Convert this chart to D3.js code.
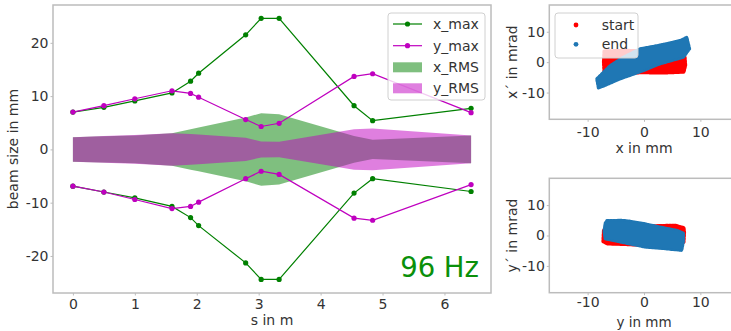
<!DOCTYPE html>
<html><head><meta charset="utf-8">
<script src="https://cdn.jsdelivr.net/npm/d3@7"></script>
<style>body{margin:0;background:#fff}svg{display:block;font-family:"DejaVu Sans",sans-serif}</style>
</head><body><svg id="c" width="731" height="331"></svg>
<script>
// ---- data ----
const s = [0, 0.5, 1.0, 1.6, 1.9, 2.03, 2.79, 3.04, 3.33, 4.54, 4.84, 6.43];
const xMaxPos = [7.0, 7.9, 9.1, 10.6, 12.8, 14.3, 21.5, 24.6, 24.6, 8.2, 5.4, 7.7];
const xMaxNeg = [-6.9, -8.0, -9.1, -10.7, -12.8, -14.3, -21.3, -24.4, -24.4, -8.2, -5.5, -7.9];
const yMaxPos = [7.0, 8.2, 9.5, 11.0, 10.5, 9.8, 5.6, 4.3, 4.9, 13.7, 14.2, 6.9];
const yMaxNeg = [-6.9, -8.0, -9.4, -11.1, -10.7, -9.9, -5.5, -4.1, -4.7, -12.9, -13.3, -6.6];
const xRMS = [2.3, 2.45, 2.6, 3.05, 3.8, 4.1, 6.0, 6.8, 6.6, 2.5, 1.8, 2.6];
const yRMS = [2.3, 2.5, 2.7, 3.05, 2.9, 2.8, 2.2, 1.5, 1.45, 3.8, 3.9, 2.6];
const sTicks = [0, 1, 2, 3, 4, 5, 6];
const sizeTicks = [-20, -10, 0, 10, 20];
const phaseTicksX = [-10, 0, 10];
const phaseTicksY = [-10, 0, 10];
const legendMain = ["x_max", "y_max", "x_RMS", "y_RMS"];
const legendPhase = ["start", "end"];
const freqLabel = "96 Hz";
// outlines of particle clouds [position mm, angle mrad]
const startXX = [[-7.1,3.7],[-7.2,0],[-7.1,-3.4],[-3,-3.6],[0,-3.5],[3.5,-3.6],[7.1,-3.3],[7.4,-1],[7.3,1.5],[7.0,3.5],[3,3.8],[0,3.8],[-3.5,3.9]];
const endXX = [[-8.1,-8.5],[-8.4,-5.5],[-7.8,-4.4],[-6.0,-1.1],[-3.7,1.6],[-0.7,4.4],[2.8,5.6],[6.4,7.1],[7.6,8.2],[8.1,4.4],[7.0,1.6],[2.8,-0.6],[-0.1,-2.8],[-4.2,-5.5],[-7.2,-7.9]];
const startYY = [[-7.2,1.6],[-7.3,-2.0],[-6.5,-2.8],[-3,-3.0],[0,-3.3],[3,-3.4],[6,-3.3],[7.1,-2.2],[7.2,1.0],[7.1,2.6],[5.5,3.4],[3,3.3],[0,3.1],[-4,3.0],[-6.8,2.7]];
const endYY = [[-6.6,4.9],[-4,5.0],[-2.8,4.8],[0,3.9],[3.1,2.7],[6.0,1.6],[7.0,0.8],[7.0,-2],[6.7,-4.9],[4,-4.4],[0.2,-3.8],[-3,-2.6],[-6.9,-1.1],[-7.1,1.5],[-6.9,4.0]];

// ---- styles ----
const GREEN = "#008000", MAG = "#bf00bf", RED = "#ff0000", BLUE = "#1f77b4";
const SPINE = "#bcbcbc", TXT = "#333", FS = 14;
const svg = d3.select("#c");

function frame(g, x, y, xt, yt, xlab, ylab, xlabY, ylabX, xpad, xlabFS) {
  const [x0, x1] = x.range(), [y0, y1] = y.range();
  g.append("rect").attr("x", x0).attr("y", y1).attr("width", x1 - x0).attr("height", y0 - y1)
    .attr("fill", "none").attr("stroke", SPINE).attr("stroke-width", 1.5);
  const xa = g.append("g").attr("transform", `translate(0,${y0})`)
    .call(d3.axisBottom(x).tickValues(xt).tickSize(2.5).tickPadding(xpad).tickFormat(d => d < 0 ? "-" + Math.abs(d) : d));
  const ya = g.append("g").attr("transform", `translate(${x0},0)`)
    .call(d3.axisLeft(y).tickValues(yt).tickSize(2.5).tickPadding(2).tickFormat(d => d < 0 ? "-" + Math.abs(d) : d));
  [xa, ya].forEach(a => {
    a.select(".domain").remove();
    a.selectAll("line").attr("stroke", SPINE).attr("stroke-width", 1);
    a.selectAll("text").attr("fill", TXT).attr("font-size", FS).attr("font-family", "DejaVu Sans");
  });
  g.append("text").attr("x", (x0 + x1) / 2).attr("y", xlabY).attr("text-anchor", "middle")
    .attr("font-size", xlabFS || FS).attr("fill", TXT).text(xlab);
  g.append("text").attr("transform", `translate(${ylabX},${(y0 + y1) / 2}) rotate(-90)`)
    .attr("text-anchor", "middle").attr("dominant-baseline", "central")
    .attr("font-size", FS).attr("fill", TXT).text(ylab);
}

// ---- main plot ----
const xs = d3.scaleLinear().domain([-0.3215, 6.7515]).range([53, 491]);
const ys = d3.scaleLinear().domain([-26.95, 27.1]).range([293, 5]);
const gm = svg.append("g");
const area = arr => d3.area().x((d, i) => xs(s[i])).y0((d, i) => ys(-arr[i])).y1((d, i) => ys(arr[i]))(arr);
gm.append("path").attr("d", area(xRMS)).attr("fill", GREEN).attr("fill-opacity", 0.5);
gm.append("path").attr("d", area(yRMS)).attr("fill", MAG).attr("fill-opacity", 0.5);
const line = d3.line().x((d, i) => xs(s[i])).y(d => ys(d));
[[xMaxPos, GREEN], [xMaxNeg, GREEN], [yMaxPos, MAG], [yMaxNeg, MAG]].forEach(([arr, c]) => {
  gm.append("path").attr("d", line(arr)).attr("fill", "none").attr("stroke", c).attr("stroke-width", 1.2);
  gm.selectAll(null).data(arr).enter().append("circle")
    .attr("cx", (d, i) => xs(s[i])).attr("cy", d => ys(d)).attr("r", 2.6).attr("fill", c);
});
frame(gm, xs, ys, sTicks, sizeTicks, "s in m", "beam size in mm", 325, 13, 3.5);
gm.append("text").attr("x", 479).attr("y", 277).attr("text-anchor", "end")
  .attr("font-size", 27.5).attr("fill", "#0a900a").text(freqLabel);
// legend
const lg = gm.append("g");
lg.append("rect").attr("x", 388).attr("y", 13).attr("width", 97).attr("height", 87).attr("rx", 3)
  .attr("fill", "#fff").attr("fill-opacity", 0.8).attr("stroke", "#d0d0d0");
const lcol = [GREEN, MAG, GREEN, MAG], ly = [24, 45.7, 67.3, 88.3];
legendMain.forEach((t, i) => {
  if (i < 2) {
    lg.append("line").attr("x1", 393).attr("x2", 422).attr("y1", ly[i]).attr("y2", ly[i]).attr("stroke", lcol[i]).attr("stroke-width", 1.2);
    lg.append("circle").attr("cx", 407.5).attr("cy", ly[i]).attr("r", 2.6).attr("fill", lcol[i]);
  } else {
    lg.append("rect").attr("x", 393).attr("y", ly[i] - 5).attr("width", 29).attr("height", 10).attr("fill", lcol[i]).attr("fill-opacity", 0.5);
  }
  lg.append("text").attr("x", 433).attr("y", ly[i]).attr("dominant-baseline", "central").attr("font-size", FS).attr("fill", TXT).text(t);
});

// ---- phase space plots ----
function phase(top, bottom, startPts, endPts, xlab, ylab, xlabY, withLegend, xpad, xlabFS) {
  const x = d3.scaleLinear().domain([-16.8, 16.8]).range([549.3, 738.7]);
  const y = d3.scaleLinear().domain([-18.8, 18.8]).range([bottom, top]);
  const g = svg.append("g");
  const poly = d3.line().x(d => x(d[0])).y(d => y(d[1])).curve(d3.curveLinearClosed);
  [[startPts, RED], [endPts, BLUE]].forEach(([pts, c]) => {
    g.append("path").attr("d", poly(pts)).attr("fill", c).attr("stroke", c)
      .attr("stroke-width", 3).attr("stroke-linejoin", "round").attr("stroke-dasharray", "2 1.2").attr("stroke-linecap", "round");
    g.append("path").attr("d", poly(pts)).attr("fill", c).attr("stroke", c).attr("stroke-width", 1.5).attr("stroke-linejoin", "round");
  });
  frame(g, x, y, phaseTicksX, phaseTicksY, xlab, ylab, xlabY, 512, xpad, xlabFS);
  if (withLegend) {
    g.append("rect").attr("x", 555).attr("y", 13).attr("width", 83).attr("height", 45).attr("rx", 3)
      .attr("fill", "#fff").attr("fill-opacity", 0.8).attr("stroke", "#d0d0d0");
    [RED, BLUE].forEach((c, i) => {
      const yy = [25, 44.3][i];
      g.append("circle").attr("cx", 576).attr("cy", yy).attr("r", 2.4).attr("fill", c);
      g.append("text").attr("x", 601.7).attr("y", yy).attr("dominant-baseline", "central").attr("font-size", FS).attr("fill", TXT).text(legendPhase[i]);
    });
  }
}
phase(5, 119.3, startXX, endXX, "x in mm", "x´ in mrad", 153, true, 5.5);
phase(178.3, 292.7, startYY, endYY, "y in mm", "y´ in mrad", 326.5, false, 2, 13.5);
</script></body></html>
